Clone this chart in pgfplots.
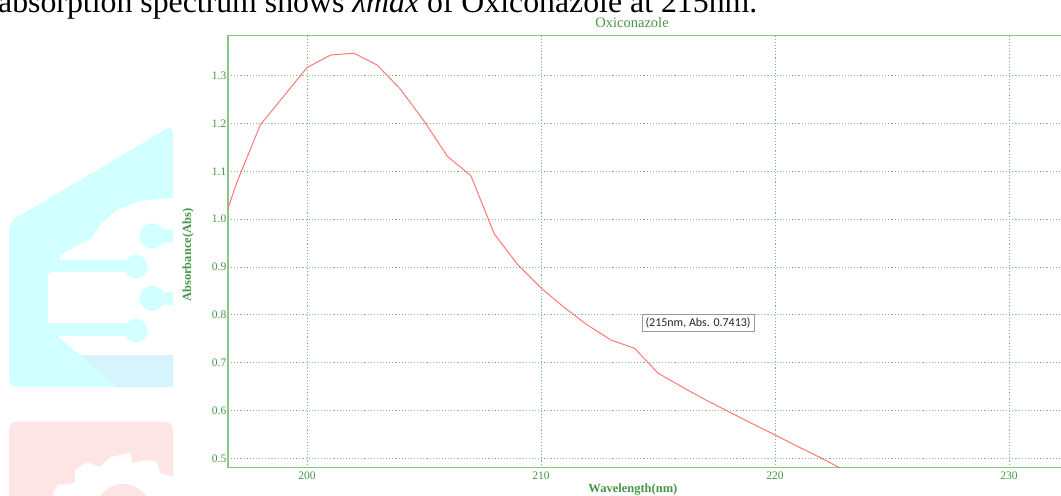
\documentclass[border=0pt]{standalone}
\usepackage{fontspec}
\setmainfont{Liberation Serif}
\newfontfamily\calibri{Carlito}
\usepackage{pgfplots}
\pgfplotsset{compat=1.18}
\definecolor{axgreen}{RGB}{135,200,135}
\definecolor{gridgreen}{RGB}{120,190,120}
\definecolor{txtgreen}{RGB}{70,150,70}
\definecolor{curvered}{RGB}{255,120,120}
\definecolor{wmcyan}{RGB}{210,255,255}
\definecolor{wmblue}{RGB}{214,244,252}
\definecolor{wmpink}{RGB}{253,229,229}
\pgfplotstableread{
x y
196.6 1.020
197 1.077
198 1.197
199 1.257
200 1.317
201 1.343
202 1.347
203 1.322
204 1.271
205 1.205
206 1.131
207 1.091
208 0.969
209 0.905
210 0.856
211 0.815
212 0.778
213 0.747
214 0.730
215 0.678
216 0.650
217 0.623
218 0.598
219 0.573
220 0.549
221 0.524
222 0.500
223 0.474
}\spectrum
\begin{document}
\begin{tikzpicture}
\useasboundingbox (0,0) rectangle (1061bp,-496bp);
\clip (0,0) rectangle (1061bp,-496bp);
% watermark (decorative)
\begin{scope}[x=1bp,y=-1bp]
\fill[wmcyan,rounded corners=8bp] (9,387) -- (9,222) -- (173,125) -- (173,387) -- cycle;
\fill[white] (173,198) -- (140,201) -- (117,210) -- (100,225) -- (92,238) -- (60,255) -- (60,262) -- (48,275) -- (48,323) -- (60,338) -- (80,355) -- (173,355) -- cycle;
\fill[wmblue] (80,355) -- (117,387) -- (173,387) -- (173,355) -- cycle;
\fill[wmcyan] (48,260) rectangle (136,272);
\fill[wmcyan] (136,266.5) circle (11.7);
\fill[wmcyan] (48,323) rectangle (136,336);
\fill[wmcyan] (136,330.5) circle (11.7);
\fill[wmcyan] (152,229) rectangle (173,243);
\fill[wmcyan] (152,236) circle (12.7);
\fill[wmcyan] (152,291.5) rectangle (173,305);
\fill[wmcyan] (152,298.3) circle (12.7);
\fill[wmpink,rounded corners=8bp] (9,510) -- (9,421.7) -- (173,421.7) -- (173,510) -- cycle;
\fill[white] (53,496) -- (53,493) -- (58,485) -- (75,483) -- (75,470) -- (87,462) -- (100,467) -- (110,457) -- (130,453) -- (132,463) -- (147,460) -- (157,462) -- (160,473) -- (173,477) -- (173,496) -- cycle;
\fill[wmpink] (123,512) circle (28);
\node[anchor=base west,inner sep=0pt,font=\fontsize{31.8bp}{36bp}\selectfont] at (-2,12.3)
  {absorption spectrum shows {\itshape λmax} of Oxiconazole at 215nm.};
\end{scope}
\begin{axis}[
  at={(228bp,-467.7bp)}, anchor=south west,
  scale only axis, width=840bp, height=432bp,
  xmin=196.62, xmax=232.52, ymin=0.4804, ymax=1.3835,
  axis line style={axgreen, line width=1.1bp},
  xtick={200,210,220,230},
  ytick={0.5,0.6,0.7,0.8,0.9,1.0,1.1,1.2,1.3},
  major tick length=0pt,
  grid=major,
  major grid style={gridgreen, line width=0.9bp, dash pattern=on 1.1bp off 2bp},
  /pgf/number format/assume math mode=true,
  yticklabel style={/pgf/number format/fixed, /pgf/number format/fixed zerofill, /pgf/number format/precision=1, inner sep=1.5bp},
  xticklabel style={/pgf/number format/fixed, /pgf/number format/precision=0, /pgf/number format/1000 sep={}, inner sep=4bp},
  ticklabel style={font=\fontsize{11.5bp}{13bp}\selectfont, text=txtgreen},
  title={Oxiconazole},
  title style={at={(axis description cs:0.481,1)}, anchor=base, inner sep=0pt, yshift=2.2bp,
    font=\fontsize{14.5bp}{16bp}\selectfont, text=txtgreen},
  xlabel={Wavelength(nm)},
  xlabel style={at={(axis description cs:0.482,-0.0516)}, anchor=center,
    font=\bfseries\fontsize{12.5bp}{14bp}\selectfont, text=txtgreen},
  ylabel={Absorbance(Abs)},
  ylabel style={at={(axis description cs:-0.0476,0.492)}, anchor=center,
    font=\bfseries\fontsize{12.5bp}{14bp}\selectfont, text=txtgreen},
]
\addplot[curvered, line width=1bp] table[x=x,y=y] {\spectrum};
\node[draw=gray!80, fill=white, line width=0.9bp, inner xsep=3.5bp, inner ysep=3bp,
  font=\calibri\fontsize{12bp}{14bp}\selectfont, text=black!85]
  at (axis cs:216.71,0.783) {(215nm, Abs. 0.7413)};
\end{axis}
\end{tikzpicture}
\end{document}
